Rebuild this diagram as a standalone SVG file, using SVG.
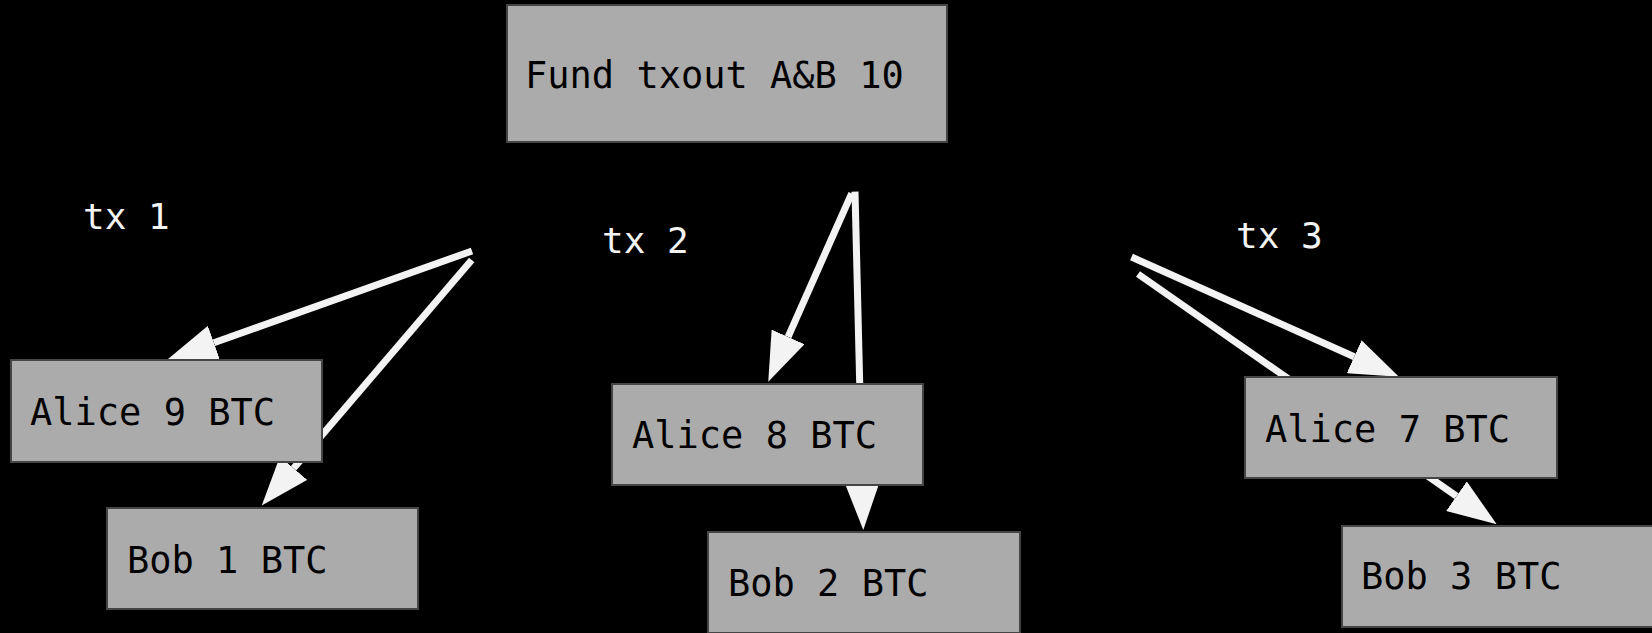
<svg xmlns="http://www.w3.org/2000/svg" width="1652" height="633" viewBox="0 0 1652 633">
<style>
.bg{fill:#000}
.box{fill:#ababab;stroke:#454545;stroke-width:2}
.t{font-family:"DejaVu Sans Mono","Liberation Mono",monospace;font-size:37px;fill:#000}
.lbl{font-family:"DejaVu Sans Mono","Liberation Mono",monospace;font-size:36px;fill:#f3f3f3}
.edge{stroke:#f3f3f3;stroke-width:7;fill:none;stroke-linecap:butt;marker-end:url(#ah)}
</style>
<defs>
<marker id="ah" markerUnits="userSpaceOnUse" markerWidth="49" markerHeight="36" refX="0" refY="18" orient="auto" viewBox="0 0 49 36"><path d="M0,0 L49,18 L0,36 z" fill="#f3f3f3"/></marker>
</defs>
<rect class="bg" x="0" y="0" width="1652" height="633"/>
<g id="labels">
<text class="lbl" x="83" y="229">tx 1</text>
<text class="lbl" x="602" y="253">tx 2</text>
<text class="lbl" x="1236" y="248">tx 3</text>
</g>
<g id="connectors">
<line class="edge" x1="472" y1="251" x2="213.9" y2="342.8"/>
<line class="edge" x1="471.7" y1="260" x2="293.6" y2="468.2"/>
<line class="edge" x1="851.7" y1="193.3" x2="788.1" y2="336.9"/>
<line class="edge" x1="855" y1="191.7" x2="862.1" y2="481"/>
<line class="edge" x1="1131.5" y1="257" x2="1354.2" y2="356.7"/>
<line class="edge" x1="1138" y1="274" x2="1456.5" y2="496.2"/>
</g>
<g id="fund"><rect class="box" x="507" y="5" width="440" height="137"/><text class="t" x="525" y="88">Fund txout A&amp;B 10</text></g>
<g id="alice9"><rect class="box" x="11" y="360" width="311" height="102"/><text class="t" x="30" y="425">Alice 9 BTC</text></g>
<g id="bob1"><rect class="box" x="107" y="508" width="311" height="101"/><text class="t" x="127" y="573">Bob 1 BTC</text></g>
<g id="alice8"><rect class="box" x="612" y="384" width="311" height="101"/><text class="t" x="632" y="448">Alice 8 BTC</text></g>
<g id="bob2"><rect class="box" x="708" y="532" width="312" height="101"/><text class="t" x="728" y="596">Bob 2 BTC</text></g>
<g id="alice7"><rect class="box" x="1245" y="377" width="312" height="101"/><text class="t" x="1265" y="442">Alice 7 BTC</text></g>
<g id="bob3"><rect class="box" x="1342" y="526" width="311" height="101"/><text class="t" x="1361" y="589">Bob 3 BTC</text></g>
</svg>
